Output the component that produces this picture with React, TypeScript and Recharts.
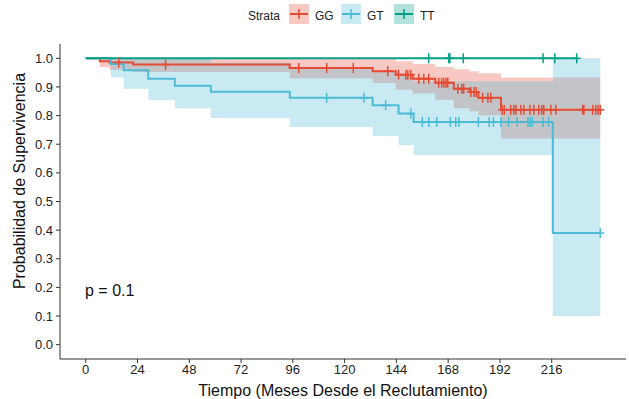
import { ComposedChart, Line, Area, Scatter, XAxis, YAxis } from 'recharts';

// Kaplan-Meier estimates (months, survival, CI)
const ggTimes = [0, 6.5, 11, 22, 94.5, 133, 143.7, 151.6, 162, 170.6, 178, 182, 192.5, 238.5];
const ggSurv = [1, 0.99, 0.985, 0.978, 0.966, 0.955, 0.943, 0.929, 0.915, 0.894, 0.882, 0.862, 0.82, 0.82];
const ggLower = [1, 0.97, 0.96, 0.952, 0.93, 0.914, 0.89, 0.877, 0.855, 0.826, 0.815, 0.8, 0.72, 0.72];
const ggUpper = [1, 1, 1, 1, 1, 1, 0.99, 0.98, 0.97, 0.962, 0.955, 0.948, 0.933, 0.933];
const ggCensor = [15.3, 37, 98.7, 111.7, 124, 140, 145, 148.4, 149.3, 150.7, 154.4, 156.7, 159, 163.6, 165, 166, 167, 167.8,
  172.5, 174.3, 175.2, 178.5, 180, 181, 184, 186.4, 187.8, 193, 194, 197, 198.4, 199.4, 201.7, 203.1, 205.9, 207.7, 210,
  211.4, 212.3, 215.6, 217.9, 230.4, 230.9, 235, 236.4, 237.5, 238.5];

const gtTimes = [0, 11.6, 17.6, 29, 41.3, 58, 94.6, 133, 145, 152, 216.5, 238.5];
const gtSurv = [1, 0.98, 0.958, 0.929, 0.904, 0.883, 0.862, 0.836, 0.807, 0.778, 0.39, 0.39];
const gtLower = [1, 0.933, 0.894, 0.854, 0.825, 0.792, 0.76, 0.729, 0.697, 0.662, 0.1, 0.1];
const gtUpper = [1, 1, 1, 1, 1, 0.985, 0.965, 0.955, 0.94, 0.92, 1, 1];
const gtCensor = [111.7, 129, 139, 150.7, 156, 159, 162.7, 169, 171.5, 173, 182, 187, 189, 192.4, 196, 200, 205, 206,
  207, 212, 214.6, 238.5];

const ttTimes = [0, 227.6];
const ttSurv = [1, 1];
const ttCensor = [159, 168.3, 168.8, 175, 212, 217.4, 227.6];

const xTicks = [0, 24, 48, 72, 96, 120, 144, 168, 192, 216];
const yTicks = [0, 0.1, 0.2, 0.3, 0.4, 0.5, 0.6, 0.7, 0.8, 0.9, 1];

const strata = [
  { name: 'GG', color: '#E64B35' },
  { name: 'GT', color: '#4DBBD5' },
  { name: 'TT', color: '#00A087' },
];

const W = 629;
const H = 399;
const FONT = '"Liberation Sans", Arial, Helvetica, sans-serif';

const curve = (times: number[], surv: number[], lower?: number[], upper?: number[]) =>
  times.map((t, i) => ({ t, s: surv[i], ci: lower && upper ? [lower[i], upper[i]] : undefined }));

// survival level at a censoring time (step function)
const censorPoints = (times: number[], surv: number[], cens: number[]) =>
  cens.map((t) => {
    let s = surv[0];
    times.forEach((tt, i) => { if (tt <= t) s = surv[i]; });
    return { t, s };
  });

const ggData = curve(ggTimes, ggSurv, ggLower, ggUpper);
const gtData = curve(gtTimes, gtSurv, gtLower, gtUpper);
const ttData = curve(ttTimes, ttSurv);

const plus = (color: string) => (props: any) => {
  const { cx, cy } = props;
  if (cx == null || cy == null) return <g />;
  return (
    <g stroke={color} strokeWidth={1.5}>
      <line x1={cx - 4} x2={cx + 4} y1={cy} y2={cy} />
      <line x1={cx} x2={cx} y1={cy - 5} y2={cy + 5} />
    </g>
  );
};

export default function App() {
  return (
    <div style={{ position: 'absolute', left: 0, top: 0, width: W, height: H, background: '#fff', fontFamily: FONT }}>
      <ComposedChart width={W} height={H} margin={{ top: 44, right: 3, bottom: 0, left: 0 }}>
        <XAxis
          type="number"
          dataKey="t"
          domain={[-11.93, 250.43]}
          ticks={xTicks}
          allowDataOverflow
          height={40}
          tickSize={4}
          tickMargin={2}
          stroke="#333"
          tick={{ fill: '#222', fontSize: 13, fontFamily: FONT }}
        />
        <YAxis
          type="number"
          domain={[-0.05, 1.05]}
          ticks={yTicks}
          allowDataOverflow
          width={60}
          tickSize={4}
          tickMargin={3}
          stroke="#333"
          tickFormatter={(v: number) => v.toFixed(1)}
          tick={{ fill: '#222', fontSize: 13, fontFamily: FONT }}
        />
        <Line data={ggData} dataKey="s" type="stepAfter" stroke={strata[0].color} strokeWidth={2} dot={false} isAnimationActive={false} />
        <Line data={gtData} dataKey="s" type="stepAfter" stroke={strata[1].color} strokeWidth={2} dot={false} isAnimationActive={false} />
        <Area data={ggData} dataKey="ci" type="stepAfter" stroke="none" fill={strata[0].color} fillOpacity={0.3} isAnimationActive={false} />
        <Area data={gtData} dataKey="ci" type="stepAfter" stroke="none" fill={strata[1].color} fillOpacity={0.3} isAnimationActive={false} />
        <Line data={ttData} dataKey="s" type="stepAfter" stroke={strata[2].color} strokeWidth={2} dot={false} isAnimationActive={false} />
        <Scatter data={censorPoints(ggTimes, ggSurv, ggCensor)} dataKey="s" shape={plus(strata[0].color)} isAnimationActive={false} />
        <Scatter data={censorPoints(gtTimes, gtSurv, gtCensor)} dataKey="s" shape={plus(strata[1].color)} isAnimationActive={false} />
        <Scatter data={censorPoints(ttTimes, ttSurv, ttCensor)} dataKey="s" shape={plus(strata[2].color)} isAnimationActive={false} />
      </ComposedChart>
      <svg width={W} height={H} style={{ position: 'absolute', left: 0, top: 0, pointerEvents: 'none' }} fontFamily={FONT}>
        <text x={248} y={19.5} fontSize={12} fill="#222">Strata</text>
        {strata.map((s, i) => {
          const x0 = [289, 341, 394][i];
          return (
            <g key={s.name}>
              <rect x={x0} y={4} width={20} height={20} fill={s.color} fillOpacity={0.3} />
              <line x1={x0 + 1} x2={x0 + 19} y1={14} y2={14} stroke={s.color} strokeWidth={2} />
              <line x1={x0 + 10} x2={x0 + 10} y1={9} y2={19} stroke={s.color} strokeWidth={1.5} />
              <text x={x0 + 26} y={19.5} fontSize={12} fill="#222">{s.name}</text>
            </g>
          );
        })}
        <text x={85} y={296} fontSize={16} fill="#111">p = 0.1</text>
        <text x={343} y={396} fontSize={16} fill="#111" textAnchor="middle">Tiempo (Meses Desde el Reclutamiento)</text>
        <text transform="translate(25,181) rotate(-90)" fontSize={16} fill="#111" textAnchor="middle">Probabilidad de Supervivencia</text>
      </svg>
    </div>
  );
}
